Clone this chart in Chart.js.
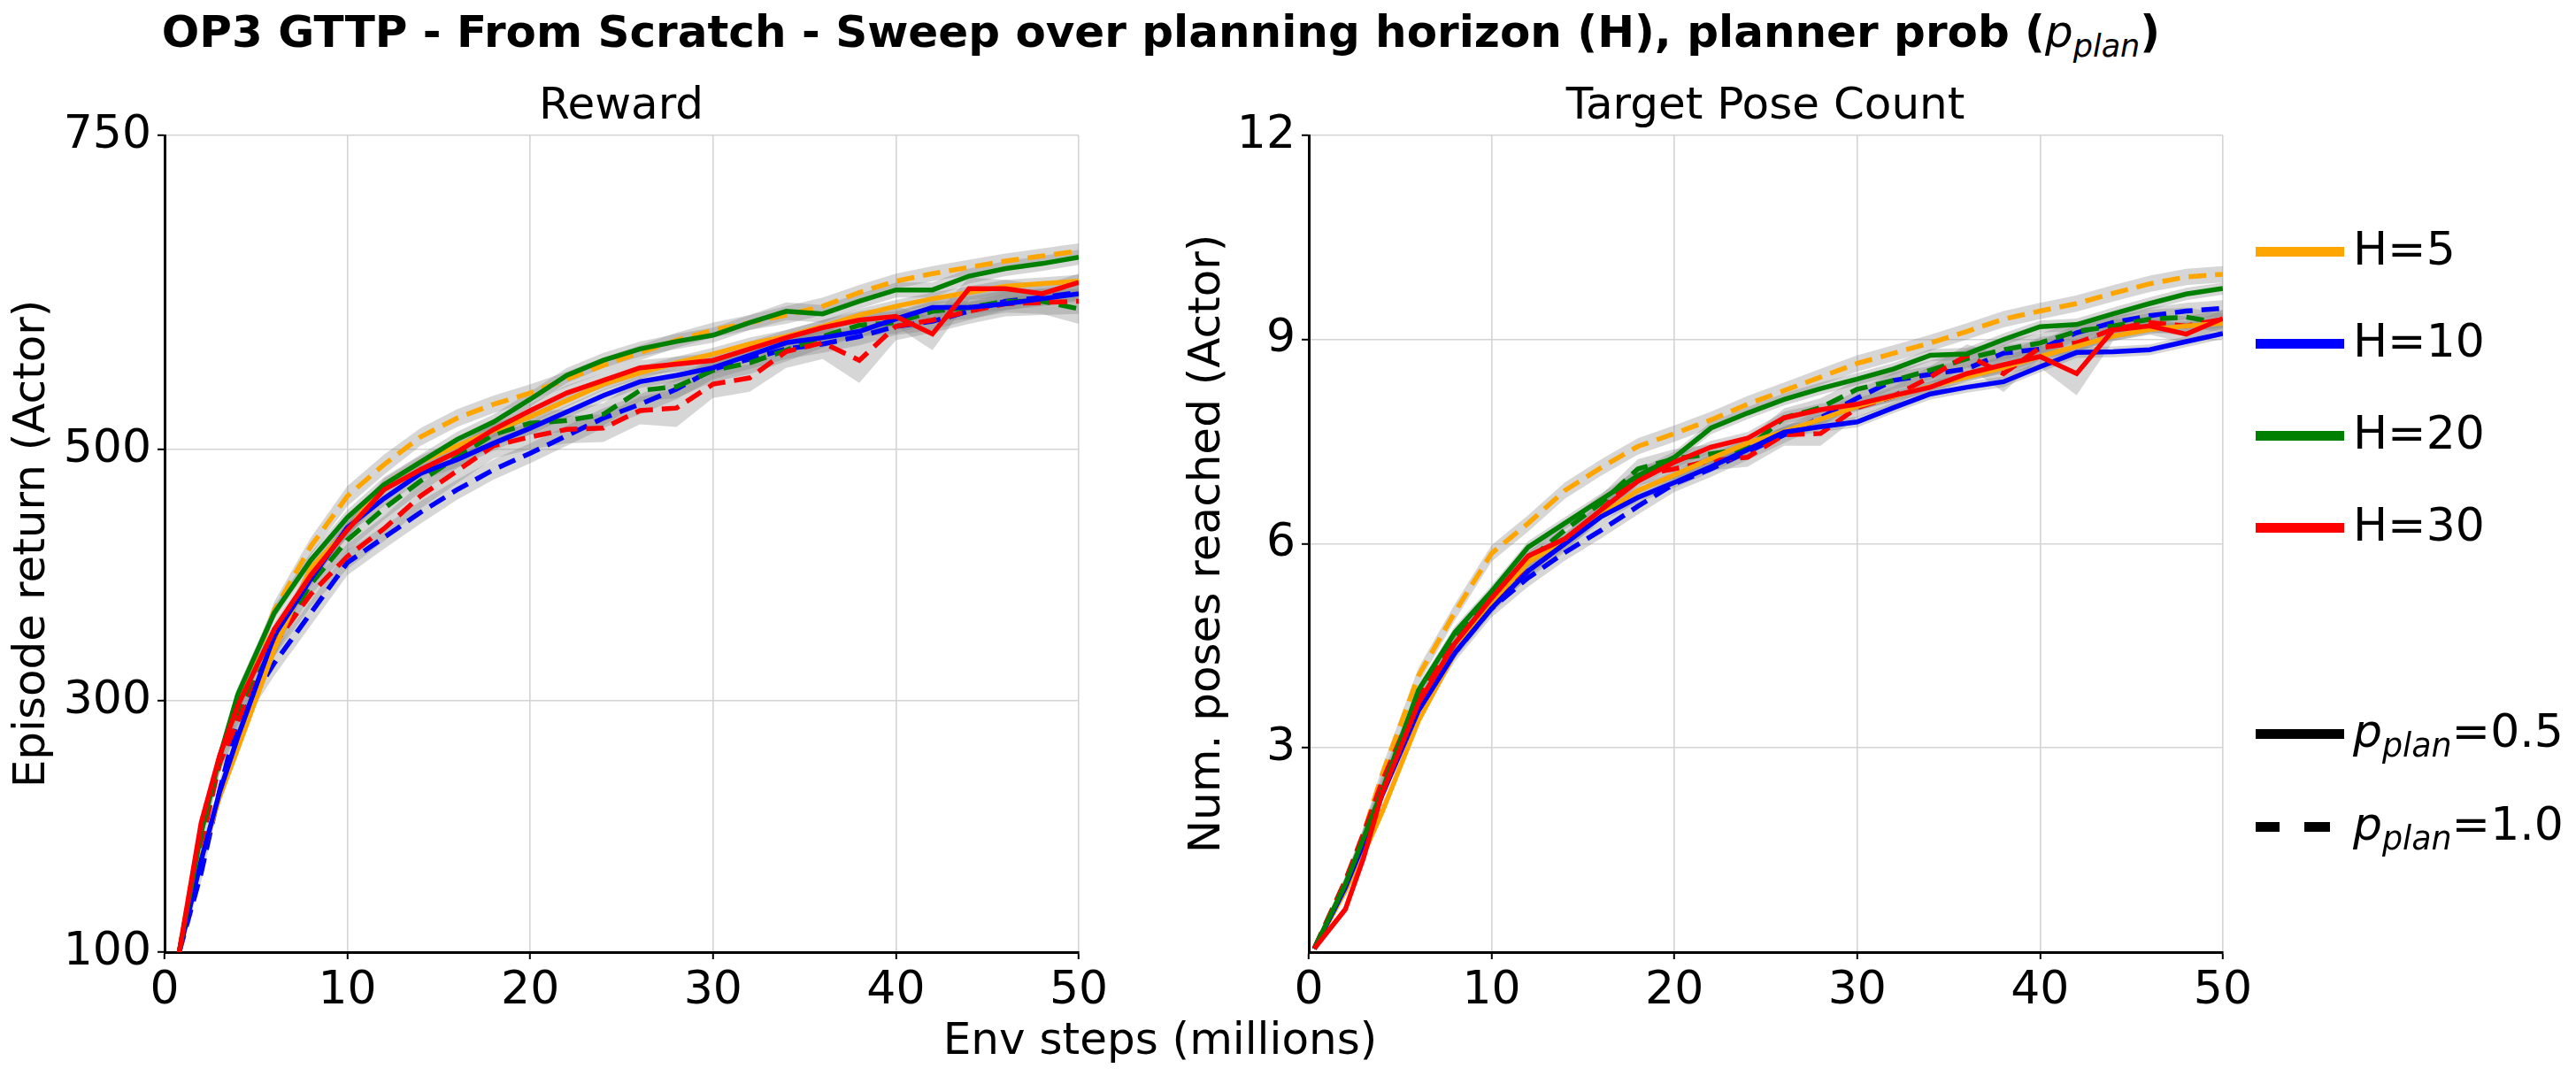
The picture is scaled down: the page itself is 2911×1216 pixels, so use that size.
<!DOCTYPE html>
<html>
<head>
<meta charset="utf-8">
<script src="https://cdn.jsdelivr.net/npm/chart.js@4.4.1/dist/chart.umd.min.js"></script>
<style>
  html, body { margin: 0; padding: 0; background: #fff; }
  body { width: 2911px; height: 1216px; position: relative; overflow: hidden; font-family: 'DejaVu Sans', sans-serif; color: #000; }
  canvas { position: absolute; }
  .txt { position: absolute; white-space: nowrap; transform: translate(-50%, -50%); line-height: 1; font-size: 50px; }
  .math { font-weight: normal; font-style: italic; }
  .math sub { font-size: 0.7em; vertical-align: -0.3em; line-height: 0; }
  .sw { position: absolute; left: 2549px; width: 100px; height: 11px; }
  .lab { position: absolute; left: 2659px; white-space: nowrap; line-height: 1; font-size: 52px; transform: translateY(-50%); }
</style>
</head>
<body>
<div class="txt" style="left:1312px; top:36px; font-weight:bold;">OP3 GTTP - From Scratch - Sweep over planning horizon (H), planner prob (<span class="math">p<sub>plan</sub></span>)</div>
<div class="txt" style="left:702px; top:117px;">Reward</div>
<div class="txt" style="left:1995px; top:117px;">Target Pose Count</div>
<div class="txt" style="left:1311px; top:1174px;">Env steps (millions)</div>
<canvas id="reward" width="1260" height="1150" style="left:0px; top:60px;"></canvas>
<canvas id="poses" width="1280" height="1150" style="left:1270px; top:60px;"></canvas>
<div id="legend"></div>
<script>
// x positions (millions of env steps)
const rewardSteps = [0.8, 2, 3, 4, 6, 8, 10, 12, 14, 16, 18, 20, 22, 24, 26, 28, 30, 32, 34, 36, 38, 40, 42, 44, 46, 48, 50];
const poseSteps = [0.3, 2, 3, 4, 6, 8, 10, 12, 14, 16, 18, 20, 22, 24, 26, 28, 30, 32, 34, 36, 38, 40, 42, 44, 46, 48, 50];
const stepTicks = [0, 10, 20, 30, 40, 50];
const rewardTicks = [100, 300, 500, 750];
const poseTicks = [3, 6, 9, 12];

const horizons = ['H=5', 'H=10', 'H=20', 'H=30'];
const horizonColors = ['orange', 'blue', 'green', 'red'];
const planProbs = ['0.5', '1.0'];

// Episode return, p_plan = 0.5 (Half) and 1.0 (Full)
const rewardH5Half = [100, 175, 223, 262, 341, 406, 436, 472, 490, 503, 515, 526, 539, 552, 561, 569, 576, 584, 590, 598, 607, 614, 620, 625, 630, 632, 634];
const rewardH5Full = [100, 200, 250, 295, 372, 423, 463, 488, 510, 525, 536, 545, 556, 567, 577, 587, 595, 601, 607, 614, 625, 634, 640, 645, 650, 654, 658];
const rewardH10Half = [100, 173, 227, 271, 352, 397, 438, 461, 481, 492, 505, 517, 530, 543, 554, 559, 565, 575, 585, 589, 594, 604, 613, 613, 616, 620, 624];
const rewardH10Full = [100, 163, 228, 284, 330, 370, 410, 430, 450, 468, 484, 497, 511, 525, 536, 548, 564, 572, 580, 584, 590, 598, 602, 610, 618, 621, 625];
const rewardH20Half = [100, 195, 255, 305, 370, 412, 446, 472, 490, 508, 522, 540, 559, 571, 580, 586, 591, 601, 610, 608, 618, 627, 627, 638, 644, 648, 653];
const rewardH20Full = [100, 195, 250, 290, 345, 393, 428, 453, 475, 494, 512, 521, 523, 528, 547, 550, 563, 569, 579, 590, 599, 601, 610, 613, 618, 618, 612];
const rewardH30Half = [100, 203, 256, 296, 357, 400, 436, 468, 484, 498, 516, 531, 545, 555, 565, 568, 571, 580, 589, 597, 603, 606, 592, 628, 628, 624, 633];
const rewardH30Full = [100, 185, 250, 284, 345, 385, 415, 437, 463, 483, 503, 510, 516, 517, 531, 533, 552, 557, 578, 585, 571, 598, 603, 610, 616, 617, 618];

// shaded spread (+/-) around each reward curve
const rewardH5HalfErr = [0, 5, 5, 5, 6, 6, 6, 5, 5, 5, 5, 5, 5, 5, 5, 5, 5, 5, 5, 5, 5, 5, 5, 5, 5, 5, 5];
const rewardH5FullErr = [0, 6, 7, 7, 7, 7, 8, 8, 7, 7, 7, 7, 6, 6, 6, 6, 6, 6, 7, 7, 6, 6, 6, 6, 6, 6, 6];
const rewardH10HalfErr = [0, 5, 5, 6, 6, 6, 6, 6, 6, 6, 6, 5, 5, 5, 5, 5, 5, 5, 5, 5, 5, 5, 5, 5, 5, 5, 5];
const rewardH10FullErr = [0, 7, 8, 9, 10, 10, 10, 9, 9, 8, 8, 8, 8, 8, 8, 8, 8, 8, 8, 7, 7, 7, 7, 7, 7, 7, 7];
const rewardH20HalfErr = [0, 5, 6, 6, 6, 6, 6, 6, 6, 6, 6, 6, 6, 6, 6, 6, 6, 6, 7, 7, 6, 6, 6, 6, 6, 6, 6];
const rewardH20FullErr = [0, 7, 8, 9, 9, 9, 9, 9, 9, 9, 9, 9, 9, 9, 9, 9, 9, 9, 9, 9, 9, 9, 9, 9, 9, 10, 12];
const rewardH30HalfErr = [0, 6, 6, 6, 6, 6, 6, 6, 6, 6, 6, 6, 6, 6, 6, 6, 6, 6, 6, 6, 7, 8, 13, 9, 7, 7, 7];
const rewardH30FullErr = [0, 7, 8, 9, 10, 10, 10, 10, 10, 10, 10, 10, 11, 11, 11, 15, 11, 11, 13, 13, 18, 11, 10, 10, 10, 10, 10];

// Number of target poses reached
const posesH5Half = [0.05, 0.9, 1.45, 2.05, 3.4, 4.4, 5.15, 5.73, 6.06, 6.43, 6.78, 7.01, 7.25, 7.48, 7.65, 7.83, 8.02, 8.17, 8.31, 8.45, 8.59, 8.75, 8.9, 9.05, 9.15, 9.2, 9.24];
const posesH5Full = [0.05, 0.95, 1.75, 2.6, 4.06, 5.0, 5.86, 6.3, 6.78, 7.12, 7.43, 7.62, 7.82, 8.05, 8.25, 8.45, 8.65, 8.8, 8.95, 9.12, 9.3, 9.42, 9.53, 9.68, 9.82, 9.92, 9.96];
const posesH10Half = [0.05, 0.95, 1.6, 2.3, 3.55, 4.4, 5.05, 5.6, 6.0, 6.4, 6.68, 6.9, 7.13, 7.38, 7.64, 7.72, 7.79, 8.0, 8.2, 8.3, 8.38, 8.6, 8.81, 8.82, 8.85, 8.97, 9.09];
const posesH10Full = [0.05, 1.0, 1.7, 2.4, 3.55, 4.4, 5.05, 5.5, 5.87, 6.2, 6.55, 6.88, 7.1, 7.35, 7.6, 7.85, 8.14, 8.4, 8.49, 8.57, 8.8, 8.86, 9.1, 9.25, 9.35, 9.42, 9.46];
const posesH20Half = [0.05, 1.0, 1.68, 2.36, 3.85, 4.7, 5.3, 5.95, 6.3, 6.65, 7.0, 7.27, 7.7, 7.92, 8.12, 8.28, 8.42, 8.57, 8.77, 8.79, 9.0, 9.19, 9.22, 9.38, 9.53, 9.67, 9.75];
const posesH20Full = [0.05, 1.05, 1.72, 2.42, 3.8, 4.6, 5.2, 5.75, 6.2, 6.6, 7.1, 7.25, 7.32, 7.4, 7.85, 8.0, 8.27, 8.4, 8.55, 8.72, 8.85, 8.95, 9.12, 9.2, 9.3, 9.33, 9.24];
const posesH30Half = [0.05, 0.63, 1.39, 2.32, 3.66, 4.54, 5.2, 5.82, 6.07, 6.5, 6.92, 7.2, 7.42, 7.55, 7.85, 7.97, 8.05, 8.18, 8.3, 8.5, 8.63, 8.75, 8.5, 9.14, 9.2, 9.08, 9.31];
const posesH30Full = [0.05, 1.05, 1.75, 2.5, 3.75, 4.55, 5.15, 5.6, 6.0, 6.5, 7.0, 7.1, 7.22, 7.27, 7.6, 7.62, 8.0, 8.17, 8.45, 8.77, 8.5, 8.88, 8.95, 9.15, 9.25, 9.2, 9.3];

const posesH5HalfErr = [0, 0.05, 0.06, 0.06, 0.07, 0.07, 0.07, 0.07, 0.07, 0.07, 0.07, 0.07, 0.07, 0.07, 0.07, 0.07, 0.07, 0.07, 0.07, 0.07, 0.07, 0.07, 0.07, 0.07, 0.07, 0.07, 0.07];
const posesH5FullErr = [0, 0.07, 0.09, 0.11, 0.12, 0.12, 0.12, 0.12, 0.12, 0.12, 0.12, 0.12, 0.12, 0.12, 0.12, 0.12, 0.12, 0.12, 0.12, 0.12, 0.12, 0.12, 0.12, 0.12, 0.12, 0.12, 0.12];
const posesH10HalfErr = [0, 0.05, 0.06, 0.07, 0.07, 0.08, 0.08, 0.08, 0.08, 0.08, 0.08, 0.08, 0.08, 0.08, 0.08, 0.08, 0.08, 0.08, 0.08, 0.08, 0.08, 0.08, 0.08, 0.08, 0.08, 0.08, 0.08];
const posesH10FullErr = [0, 0.07, 0.09, 0.11, 0.13, 0.13, 0.13, 0.13, 0.12, 0.12, 0.12, 0.12, 0.12, 0.12, 0.12, 0.12, 0.12, 0.12, 0.12, 0.12, 0.12, 0.12, 0.12, 0.12, 0.12, 0.12, 0.12];
const posesH20HalfErr = [0, 0.06, 0.07, 0.08, 0.09, 0.09, 0.09, 0.09, 0.09, 0.09, 0.09, 0.09, 0.09, 0.09, 0.09, 0.09, 0.09, 0.09, 0.09, 0.09, 0.09, 0.09, 0.09, 0.09, 0.09, 0.09, 0.09];
const posesH20FullErr = [0, 0.07, 0.09, 0.11, 0.12, 0.12, 0.12, 0.12, 0.12, 0.12, 0.14, 0.14, 0.14, 0.14, 0.14, 0.14, 0.14, 0.14, 0.14, 0.14, 0.14, 0.14, 0.14, 0.14, 0.14, 0.14, 0.14];
const posesH30HalfErr = [0, 0.07, 0.09, 0.09, 0.09, 0.09, 0.09, 0.09, 0.09, 0.09, 0.09, 0.09, 0.09, 0.09, 0.09, 0.09, 0.09, 0.09, 0.09, 0.11, 0.13, 0.16, 0.32, 0.16, 0.13, 0.13, 0.13];
const posesH30FullErr = [0, 0.07, 0.09, 0.11, 0.12, 0.12, 0.12, 0.12, 0.12, 0.14, 0.14, 0.14, 0.14, 0.14, 0.16, 0.18, 0.14, 0.14, 0.16, 0.16, 0.27, 0.16, 0.14, 0.14, 0.14, 0.14, 0.14];

const GRID = '#d4d4d4';
const BAND = 'rgba(128,128,128,0.32)';
const NONE = 'rgba(0,0,0,0)';

Chart.defaults.font.family = "'DejaVu Sans', sans-serif";
Chart.defaults.font.size = 52;
Chart.defaults.color = '#000';

// solid = p_plan 0.5, dashed = p_plan 1.0; z: lower is drawn on top
function seriesList(half, full, halfErr, fullErr) {
  const out = [];
  for (let i = 0; i < horizons.length; i++) {
    out.push({ mean: full[i], err: fullErr[i], color: horizonColors[i], dashed: true, z: 8 - i });
  }
  for (let i = 0; i < horizons.length; i++) {
    out.push({ mean: half[i], err: halfErr[i], color: horizonColors[i], dashed: false, z: 4 - i });
  }
  return out;
}

function buildDatasets(xs, series) {
  const bands = [];
  const lines = [];
  series.forEach(s => {
    bands.push({
      data: xs.map((x, i) => ({ x, y: s.mean[i] + s.err[i] })),
      fill: '+1', backgroundColor: BAND, borderColor: NONE, borderWidth: 0, pointRadius: 0, order: 50
    });
    bands.push({
      data: xs.map((x, i) => ({ x, y: s.mean[i] - s.err[i] })),
      fill: false, borderColor: NONE, borderWidth: 0, pointRadius: 0, order: 50
    });
    lines.push({
      data: xs.map((x, i) => ({ x, y: s.mean[i] })),
      borderColor: s.color, borderWidth: 5.5, borderDash: s.dashed ? [20, 10] : [],
      pointRadius: 0, fill: false, tension: 0, order: s.z
    });
  });
  return bands.concat(lines);
}

function makeChart(id, yTitle, xs, series, yMin, yMax, yTicks, yAxisWidth, padRight, yTitlePad) {
  new Chart(document.getElementById(id), {
    type: 'line',
    data: { datasets: buildDatasets(xs, series) },
    options: {
      responsive: false,
      animation: false,
      layout: { padding: { left: 0, right: padRight, top: 93, bottom: 0 } },
      plugins: {
        legend: { display: false },
        tooltip: { enabled: false }
      },
      scales: {
        x: {
          type: 'linear', min: 0, max: 50,
          afterBuildTicks: s => { s.ticks = stepTicks.map(v => ({ value: v })); },
          afterFit: s => { s.height = 134; },
          grid: { color: c => (c.tick && c.tick.value === 0 ? NONE : GRID), lineWidth: 1.6, tickColor: '#000', tickLength: 8, tickWidth: 2 },
          border: { color: '#000', width: 3 },
          ticks: { padding: 5, maxRotation: 0, color: '#000' }
        },
        y: {
          type: 'linear', min: yMin, max: yMax,
          afterBuildTicks: s => { s.ticks = yTicks.map(v => ({ value: v })); },
          afterFit: s => { s.width = yAxisWidth; },
          grid: { color: c => (c.tick && c.tick.value === yMin ? NONE : GRID), lineWidth: 1.6, tickColor: '#000', tickLength: 8, tickWidth: 2 },
          border: { color: '#000', width: 3 },
          ticks: { padding: 7, color: '#000' },
          title: { display: true, text: yTitle, font: { size: 50 }, color: '#000', padding: { top: yTitlePad, bottom: 0 } }
        }
      }
    }
  });
}

makeChart('reward', 'Episode return (Actor)', rewardSteps,
  seriesList([rewardH5Half, rewardH10Half, rewardH20Half, rewardH30Half],
             [rewardH5Full, rewardH10Full, rewardH20Full, rewardH30Full],
             [rewardH5HalfErr, rewardH10HalfErr, rewardH20HalfErr, rewardH30HalfErr],
             [rewardH5FullErr, rewardH10FullErr, rewardH20FullErr, rewardH30FullErr]),
  100, 750, rewardTicks, 186, 41, 7);

makeChart('poses', 'Num. poses reached (Actor)', poseSteps,
  seriesList([posesH5Half, posesH10Half, posesH20Half, posesH30Half],
             [posesH5Full, posesH10Full, posesH20Full, posesH30Full],
             [posesH5HalfErr, posesH10HalfErr, posesH20HalfErr, posesH30HalfErr],
             [posesH5FullErr, posesH10FullErr, posesH20FullErr, posesH30FullErr]),
  0, 12, poseTicks, 209, 38, 65);

// legend built from the same names and colours
const legend = document.getElementById('legend');
const legendRows = [284, 388, 492, 596];
horizons.forEach((h, i) => {
  legend.insertAdjacentHTML('beforeend',
    '<div class="sw" style="top:' + (legendRows[i] - 5.5) + 'px;background:' + horizonColors[i] + '"></div>' +
    '<div class="lab" style="top:' + (legendRows[i] - 3) + 'px">' + h + '</div>');
});
const styleRows = [829, 934];
planProbs.forEach((p, i) => {
  const y = styleRows[i];
  const sw = i === 0
    ? '<div class="sw" style="top:' + (y - 5.5) + 'px;background:#000"></div>'
    : '<div class="sw" style="top:' + (y - 5.5) + 'px;width:27px;background:#000"></div>' +
      '<div class="sw" style="top:' + (y - 5.5) + 'px;left:2604px;width:29px;background:#000"></div>';
  legend.insertAdjacentHTML('beforeend', sw +
    '<div class="lab" style="top:' + (y - 3) + 'px"><span class="math">p<sub>plan</sub></span>=' + p + '</div>');
});
</script>
</body>
</html>
